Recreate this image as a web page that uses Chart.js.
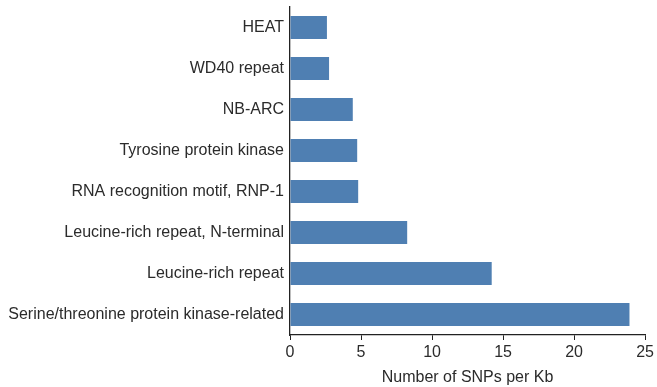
<!DOCTYPE html>
<html>
<head>
<meta charset="utf-8">
<script src="https://cdn.jsdelivr.net/npm/chart.js@4"></script>
<style>
  html, body { margin: 0; padding: 0; background: #fff; }
  .chart { width: 657px; height: 387px; }
</style>
</head>
<body>
<div class="chart">
  <canvas id="snp-chart" width="657" height="387"></canvas>
</div>
<script>
const domains = [
  'HEAT',
  'WD40 repeat',
  'NB-ARC',
  'Tyrosine protein kinase',
  'RNA recognition motif, RNP-1',
  'Leucine-rich repeat, N-terminal',
  'Leucine-rich repeat',
  'Serine/threonine protein kinase-related',
];
const snpsPerKb = [2.6, 2.75, 4.42, 4.73, 4.8, 8.25, 14.2, 23.9];
const xTicks = [0, 5, 10, 15, 20, 25];

const textColor = '#2b2b2b';
const font = { family: 'Liberation Sans, Arial, sans-serif', size: 16 };

const ctx = document.getElementById('snp-chart').getContext('2d');
new Chart(ctx, {
  type: 'bar',
  data: {
    labels: domains,
    datasets: [{
      data: snpsPerKb,
      backgroundColor: '#4f7fb2',
      borderWidth: 0,
      categoryPercentage: 1,
      barPercentage: 0.56,
    }],
  },
  options: {
    indexAxis: 'y',
    responsive: false,
    animation: false,
    layout: { padding: { top: 7, right: 11, left: 0, bottom: 0 } },
    plugins: {
      legend: { display: false },
      tooltip: { enabled: false },
    },
    scales: {
      x: {
        min: 0,
        max: 25,
        afterBuildTicks: (axis) => {
          axis.ticks = xTicks.map((v) => ({ value: v }));
        },
        grid: {
          drawOnChartArea: false,
          drawTicks: true,
          tickLength: 5,
          color: '#222',
        },
        border: { display: true, color: '#222', width: 1.3 },
        ticks: { color: textColor, font, padding: 3, maxRotation: 0 },
        title: {
          display: true,
          text: 'Number of SNPs per Kb',
          color: textColor,
          font,
          padding: { top: 1, bottom: 0 },
        },
        afterFit: (axis) => { axis.height = 52; },
      },
      y: {
        grid: { display: false, drawTicks: false },
        border: { display: true, color: '#222', width: 1.3 },
        ticks: { color: textColor, font, padding: 6, autoSkip: false },
        afterFit: (axis) => {
          axis.width = 290;
          axis.paddingTop = 0;
          axis.paddingBottom = 0;
        },
      },
    },
  },
});
</script>
</body>
</html>
